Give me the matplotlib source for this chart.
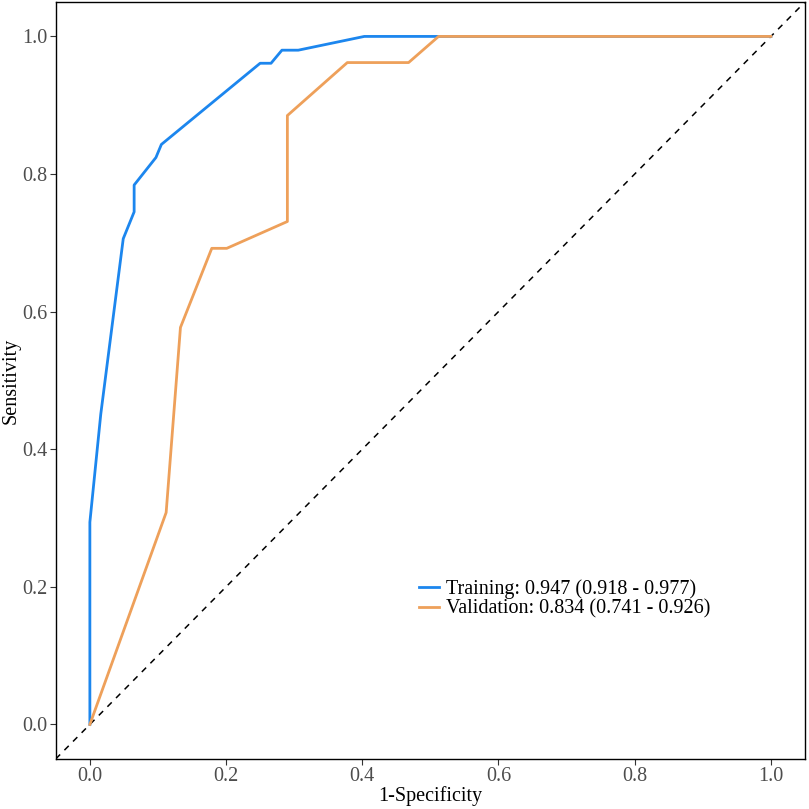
import numpy as np
import matplotlib
matplotlib.use("Agg")
import matplotlib.pyplot as plt

plt.rcParams['font.family'] = ['Liberation Serif', 'DejaVu Serif']

# ROC points
train_fpr = [0.0, 0.0, 0.016, 0.049, 0.065, 0.065, 0.097, 0.105, 0.250, 0.266, 0.282, 0.306, 0.403, 1.0]
train_tpr = [0.0, 0.294, 0.451, 0.706, 0.745, 0.784, 0.824, 0.843, 0.961, 0.961, 0.980, 0.980, 1.0, 1.0]

valid_fpr = [0.0, 0.112, 0.133, 0.179, 0.201, 0.290, 0.290, 0.378, 0.468, 0.512, 1.0]
valid_tpr = [0.0, 0.308, 0.577, 0.692, 0.692, 0.731, 0.885, 0.962, 0.962, 1.0, 1.0]

labels = ['Training: 0.947 (0.918 - 0.977)', 'Validation: 0.834 (0.741 - 0.926)']
colors = ['#1C86EE', '#EEA05A']

fig = plt.figure(figsize=(8.09, 8.09), dpi=100)
ax = fig.add_axes([0.069, 0.062, 0.926, 0.9355])

ax.plot([-0.05, 1.05], [-0.05, 1.05], color='black', linestyle=(0, (4, 4)), linewidth=1.1)
ax.plot(train_fpr, train_tpr, color=colors[0], linewidth=2.0, label=labels[0])
ax.plot(valid_fpr, valid_tpr, color=colors[1], linewidth=2.0, label=labels[1])

ax.set_xlim(-0.05, 1.05)
ax.set_ylim(-0.05, 1.05)
ticks = np.arange(0, 1.01, 0.2)
ax.set_xticks(ticks)
ax.set_yticks(ticks)
ax.set_xticklabels(['%.1f' % v for v in ticks])
ax.set_yticklabels(['%.1f' % v for v in ticks])
ax.tick_params(labelsize=14.5, length=4, width=0.8, pad=2, colors='#333333', labelcolor='#4D4D4D')

for s in ax.spines.values():
    s.set_linewidth(1.0)
    s.set_color('black')

ax.set_xlabel('1-Specificity', fontsize=14.5)
ax.set_ylabel('Sensitivity', fontsize=14.5)
ax.xaxis.label.set_va('center')
ax.yaxis.label.set_va('center')
ax.xaxis.set_label_coords(0.5, -0.049)
ax.yaxis.set_label_coords(-0.059, 0.5)

ax.legend(loc='center left', bbox_to_anchor=(0.461, 0.211), frameon=False, fontsize=14.5,
          handlelength=1.0, handletextpad=0.35, labelspacing=0.0)

fig.savefig('out.png', dpi=100)
